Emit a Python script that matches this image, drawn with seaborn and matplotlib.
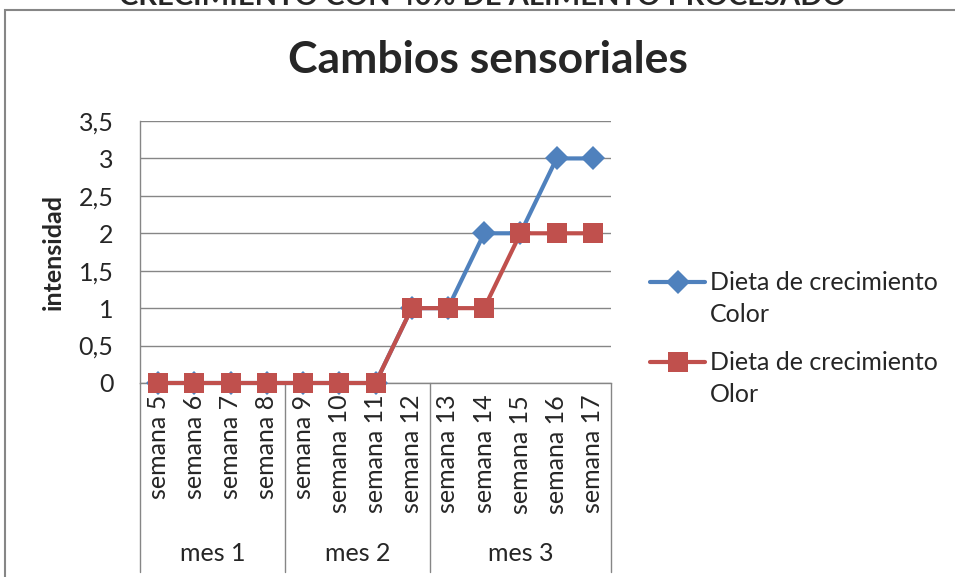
import matplotlib
matplotlib.use('Agg')
import matplotlib.pyplot as plt
import matplotlib.patches as mpatches
from matplotlib.lines import Line2D
import seaborn as sns

weeks = ['semana 5', 'semana 6', 'semana 7', 'semana 8', 'semana 9', 'semana 10',
         'semana 11', 'semana 12', 'semana 13', 'semana 14', 'semana 15',
         'semana 16', 'semana 17']
months = ['mes 1', 'mes 2', 'mes 3']
month_sizes = [4, 4, 5]
color_vals = [0, 0, 0, 0, 0, 0, 0, 1, 1, 2, 2, 3, 3]
olor_vals = [0, 0, 0, 0, 0, 0, 0, 1, 1, 1, 2, 2, 2]
y_ticks = [0, 0.5, 1, 1.5, 2, 2.5, 3, 3.5]
series_names = [('Dieta de crecimiento', 'Color'), ('Dieta de crecimiento', 'Olor')]

sns.set_style('white')
plt.rcParams['font.family'] = ['Lato', 'DejaVu Sans']

fig = plt.figure(figsize=(9.55, 5.77), dpi=100)
ax = fig.add_axes([140 / 955, 1 - 383 / 577, 471 / 955, 262 / 577])

grey = '#868686'
blue = '#4F81BD'
red = '#C0504D'
idx = list(range(len(weeks)))

sns.lineplot(x=idx, y=color_vals, ax=ax, color=blue, lw=3, marker='D',
             markersize=12, markeredgewidth=0, clip_on=False, zorder=3)
sns.lineplot(x=idx, y=olor_vals, ax=ax, color=red, lw=3, marker='s',
             markersize=14, markeredgewidth=0, clip_on=False, zorder=4)

ax.set_xlim(-0.5, len(weeks) - 0.5)
ax.set_ylim(0, 3.5)
ax.set_yticks(y_ticks)
ax.set_yticklabels([('%g' % v).replace('.', ',') for v in y_ticks], fontsize=18)
ax.yaxis.grid(True, color=grey, lw=1)
ax.set_xticks([])
for s in ['top', 'right']:
    ax.spines[s].set_visible(False)
for s in ['left', 'bottom']:
    ax.spines[s].set_color(grey)
    ax.spines[s].set_linewidth(1)
ax.tick_params(axis='y', length=0, pad=19)
ax.set_ylabel('intensidad', fontsize=18, fontweight='bold', labelpad=10)

# category labels (two levels)
trans = ax.get_xaxis_transform()
for i, w in enumerate(weeks):
    ax.text(i, -0.045, w, rotation=90, ha='center', va='top', fontsize=18,
            transform=trans)
start = 0
bounds = [-0.5]
for m, n in zip(months, month_sizes):
    center = start + (n - 1) / 2
    ax.text(center, -0.65, m, ha='center', va='center', fontsize=18, transform=trans)
    start += n
    bounds.append(start - 0.5)
for b in bounds:
    ax.plot([b, b], [0, -0.72], color=grey, lw=1, transform=trans, clip_on=False)

# legend, drawn by hand so the symbol sits on the first label line
for k, ((l1, l2), col, mk, ms) in enumerate(zip(series_names, [blue, red],
                                                ['D', 's'], [12, 14])):
    yc = 1 - (282 + 80 * k) / 577
    fig.add_artist(Line2D([650 / 955, 705 / 955], [yc, yc], color=col, lw=3,
                          marker=None, transform=fig.transFigure))
    fig.add_artist(Line2D([678 / 955], [yc], color=col, marker=mk, markersize=ms,
                          markeredgewidth=0, transform=fig.transFigure))
    fig.text(710 / 955, yc, l1, ha='left', va='center', fontsize=18)
    fig.text(710 / 955, yc - 32 / 577, l2, ha='left', va='center', fontsize=18)

fig.suptitle('Cambios sensoriales', x=488 / 955, y=1 - 60 / 577, va='center',
             fontsize=32, fontweight='bold')
fig.text(483 / 955, 1 - 5 / 577, 'CRECIMIENTO CON 40% DE ALIMENTO PROCESADO',
         ha='center', va='baseline', fontsize=21, fontweight='bold')

fig.patches.append(mpatches.Rectangle((5 / 955, -0.1), 1.2, 1.1 - 10 / 577,
                                      transform=fig.transFigure, fill=False,
                                      edgecolor=grey, lw=1.5))

fig.savefig('out.png', dpi=100, facecolor='white')
